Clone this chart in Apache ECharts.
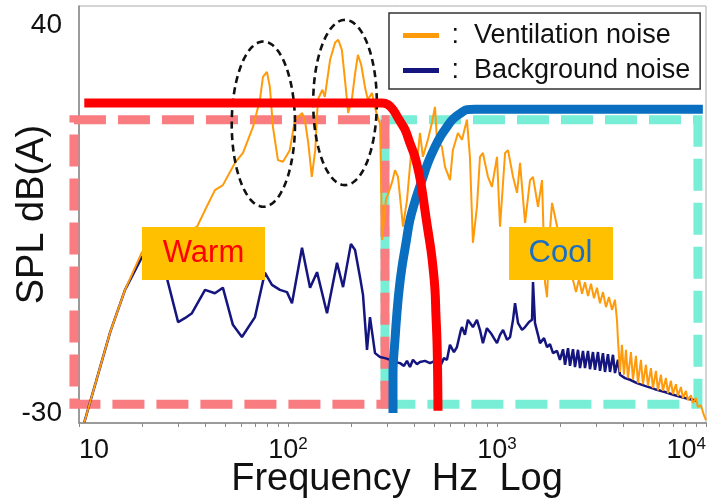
<!DOCTYPE html>
<html>
<head>
<meta charset="utf-8">
<script src="https://cdn.jsdelivr.net/npm/echarts@6/dist/echarts.min.js"></script>
<style>
  html, body { margin: 0; padding: 0; background: #fff; }
  #chart { width: 713px; height: 499px; }
</style>
</head>
<body>
<div id="chart"></div>
<script>
// spectra, [Hz, dB(A)]
const ventilationNoise = [
  [10.6, -31.7], [14.1, -15.4], [16.6, -7.8], [20.0, -1.0], [27.2, 1.2], [36.7, 3.6], [40.1, 6.6],
  [44.7, 10.2], [48.8, 11.1], [55.7, 15.1], [60.9, 16.9], [68.0, 21.6], [73.4, 26.5], [75.9, 30.6],
  [79.3, 31.5], [81.9, 28.8], [84.7, 21.6], [89.5, 15.6], [94.6, 15.3], [102, 17.4], [108, 22.9],
  [112, 23.4], [117, 24.1], [121, 22.3], [125, 18.7], [130, 12.6], [135, 17.4], [139, 26.5],
  [146, 28.3], [150, 27.0], [159, 33.7], [168, 36.8], [174, 37.3], [181, 35.5], [188, 29.5],
  [194, 24.1], [202, 26.5], [209, 31.0], [216, 34.6], [224, 32.8], [234, 28.6], [241, 26.5],
  [252, 27.7], [264, 24.3], [276, 22.0], [282, 1.2], [294, 8.4], [314, 11.5], [325, 13.8],
  [336, 12.6], [355, 3.6], [371, 8.4], [392, 18.7], [414, 15.1], [428, 20.5], [442, 16.2],
  [467, 19.3], [488, 22.3], [505, 25.2], [516, 19.3], [545, 18.0], [564, 14.4], [596, 12.0],
  [615, 17.4], [650, 20.5], [680, 19.3], [718, 22.9], [742, 16.2], [767, 0.7], [802, 7.2],
  [829, 16.2], [856, 16.9], [905, 12.6], [946, 10.8], [1000, 16.2], [1034, 3.6], [1093, 16.9],
  [1129, 17.4], [1193, 12.6], [1247, 9.7], [1289, 15.1], [1362, 4.3], [1439, 12.0], [1487, 12.6],
  [1571, 7.2], [1642, 12.0], [1697, -6.5], [1735, -9.1], [1793, 3.0], [1834, 7.9], [1895, 5.4],
  [2000, 1.2], [2139, -2.8], [2310, -6.0], [2388, -8.2], [2468, -5.8], [2551, -8.5], [2636, -6.4],
  [2725, -8.9], [2817, -6.7], [2911, -9.3], [3009, -7.4], [3110, -10.2], [3214, -8.2], [3322, -10.9],
  [3434, -9.1], [3549, -11.4], [3668, -9.6], [3750, -13.2], [3791, -16.8], [3876, -22.6], [3962, -17.7],
  [4050, -23.1], [4141, -18.6], [4233, -23.7], [4375, -19.0], [4472, -24.0], [4623, -19.7], [4725, -24.6],
  [4884, -20.4], [4992, -24.8], [5161, -21.3], [5275, -25.1], [5453, -21.9], [5574, -25.5], [5762, -22.4],
  [5889, -25.9], [6087, -23.1], [6222, -26.0], [6432, -23.7], [6575, -26.4], [6796, -24.2], [6947, -26.6],
  [7180, -24.8], [7339, -26.9], [7587, -25.3], [7754, -27.3], [8016, -26.0], [8193, -27.7], [8470, -26.8],
  [8657, -28.2], [8949, -27.3], [9147, -28.9], [9455, -28.6], [9772, -30.4], [10000, -31.3]
];

const backgroundNoise = [
  [10.6, -31.7], [14.1, -15.4], [16.6, -7.8], [20.0, -1.9], [22.4, 0.3], [24.4, -2.4], [26.4, -5.8],
  [29.8, -13.6], [32.1, -12.9], [34.7, -12.0], [40.1, -7.8], [44.7, -8.4], [48.8, -7.4], [54.5, -14.1],
  [60.2, -16.3], [69.5, -12.7], [77.5, -4.7], [83.8, -6.9], [91.5, -7.8], [98.9, -8.2], [104.5, -10.2],
  [116.7, -0.2], [127.5, -7.4], [137.7, -4.6], [153.7, -12.0], [171.6, -2.9], [183.4, -7.3], [200, 0.5],
  [209.3, -0.6], [221.1, -5.5], [228.5, -8.7], [238.8, -18.6], [246.8, -12.7], [260.8, -19.2],
  [275.5, -19.9], [291.1, -20.1], [307.6, -20.4], [325, -20.8], [343.4, -21.0], [358.8, -21.5],
  [370.9, -20.6], [383.4, -21.7], [396.2, -20.4], [414.1, -21.2], [428, -20.8], [452.2, -20.6],
  [477.8, -21.0], [504.8, -20.6], [539.3, -21.3], [557.4, -20.1], [576.2, -20.4], [595.5, -17.7],
  [622.2, -19.0], [643.2, -18.1], [672.2, -15.0], [679.6, -14.5], [702.4, -15.9], [725.9, -13.2],
  [767, -14.5], [801.6, -13.2], [828.5, -15.0], [856.3, -17.4], [894.9, -14.7], [935.1, -15.6],
  [966.4, -16.5], [1000, -17.4], [1034, -15.9], [1069, -15.0], [1117, -16.8], [1155, -16.3],
  [1193, -13.2], [1220, -10.2], [1261, -13.8], [1318, -15.0], [1362, -14.5], [1423, -13.6],
  [1471, -13.2], [1487, -6.4], [1520, -13.8], [1571, -15.9], [1606, -17.4], [1679, -16.5],
  [1735, -18.1], [1793, -17.6], [1854, -19.2], [1937, -18.8], [2000, -20.4], [2070, -18.5],
  [2116, -21.3], [2187, -18.3], [2235, -21.5], [2310, -18.5], [2361, -21.7], [2441, -18.6],
  [2495, -21.9], [2579, -18.8], [2636, -21.9], [2725, -18.8], [2786, -22.1], [2879, -19.0],
  [2943, -22.2], [3042, -19.0], [3110, -22.4], [3214, -19.2], [3286, -22.6], [3396, -19.4],
  [3472, -22.6], [3588, -19.5], [3668, -22.8], [3791, -20.4], [3876, -23.1], [4096, -23.7],
  [4328, -24.0], [4674, -24.6], [5104, -25.1], [5698, -25.7], [6361, -26.2], [7101, -26.8],
  [7927, -27.3], [9047, -27.8]
];

// crossover curves (warm side = red, cool side = blue)
const warmCurve = [
  [10.6, 25.9], [282, 25.9], [301, 25.6], [318, 24.7], [340, 22.9], [363, 21.1], [383, 18.7],
  [405, 16.2], [423, 13.3], [438, 10.2], [452, 6.6], [467, 3.0], [483, -0.6], [494, -3.7],
  [505, -7.8], [510, -12.0], [516, -16.8], [519, -21.0], [521, -25.9], [522, -29.6]
];
const coolCurve = [
  [318, -30.0], [318, -22.8], [325, -16.8], [332, -12.0], [340, -7.8], [351, -3.7], [367, 0.7],
  [383, 4.8], [410, 8.8], [438, 12.0], [467, 15.1], [505, 18.0], [539, 20.0], [576, 21.6],
  [615, 23.0], [672, 24.1], [718, 24.7], [784, 24.8], [9660, 24.8]
];

// dashed zones and circled peaks: [f low, f high, dB low, dB high]
const zones = [[291, 9150, -28.4, 22.9], [9.46, 291, -28.4, 22.9]];
const peakRings = [[53.8, 108, 7.2, 37.0], [132, 266, 11.1, 40.9]];

const yTickValues = [-30, 40];
const xTickValues = [10, 20, 30, 40, 50, 60, 70, 80, 90, 100, 200, 300, 400, 500, 600, 700, 800, 900,
  1000, 2000, 3000, 4000, 5000, 6000, 7000, 8000, 9000, 10000];

const FONT = '"Liberation Sans", Arial, sans-serif';
const zoneColors = ['#78eed6', '#f87c80'];

const chart = echarts.init(document.getElementById('chart'));

const option = {
  animation: false,
  textStyle: { fontFamily: FONT, color: '#111' },
  grid: {
    left: 79, right: 7, top: 6, bottom: 76,
    show: true, borderColor: '#aaa', borderWidth: 1,
    outerBoundsMode: 'none'
  },
  legend: {
    data: ['Ventilation noise', 'Background noise'],
    orient: 'vertical',
    left: 389, top: 13,
    padding: [9, 10, 5, 14],
    itemGap: 8,
    itemWidth: 36, itemHeight: 5,
    icon: 'rect',
    borderColor: '#333', borderWidth: 1.5,
    formatter: ' :  {name}',
    textStyle: { fontSize: 27, color: '#111', fontFamily: FONT }
  },
  xAxis: {
    type: 'log', logBase: 10, min: 10, max: 10000,
    name: 'Frequency  Hz  Log',
    nameLocation: 'middle', nameGap: 38, nameMoveOverlap: false,
    nameTextStyle: { fontSize: 38, color: '#111', padding: [0, 0, 0, 9] },
    axisLine: { onZero: false, lineStyle: { color: '#888', width: 1.5 } },
    axisTick: { show: true, length: 4, lineStyle: { color: '#888' }, customValues: xTickValues },
    splitLine: { show: false },
    axisLabel: {
      margin: 13,
      alignMinLabel: 'left', alignMaxLabel: 'right',
      formatter: v => {
        const p = Math.round(Math.log10(v));
        return p === 1 ? '{b|10}' : '{b|10}{s|' + p + '}';
      },
      rich: {
        b: { fontSize: 27, lineHeight: 30, color: '#111', fontFamily: FONT },
        s: { fontSize: 17, lineHeight: 22, verticalAlign: 'top', color: '#111', fontFamily: FONT }
      }
    }
  },
  yAxis: {
    type: 'value', min: -31.8, max: 43.4,
    name: 'SPL dB(A)',
    nameLocation: 'middle', nameGap: 27, nameMoveOverlap: false,
    nameTextStyle: { fontSize: 38, color: '#111' },
    axisLine: { show: true, onZero: false, lineStyle: { color: '#888', width: 1.5 } },
    axisTick: { show: false },
    splitLine: { show: false },
    axisLabel: { customValues: yTickValues, fontSize: 28, color: '#111', margin: 17 }
  },
  series: [
    {
      type: 'custom', silent: true, z: 1,
      data: zones,
      encode: { x: [0, 1], y: [2, 3] },
      renderItem: (params, api) => {
        const a = api.coord([api.value(0), api.value(3)]);
        const b = api.coord([api.value(1), api.value(2)]);
        return {
          type: 'rect',
          shape: { x: a[0], y: a[1], width: b[0] - a[0], height: b[1] - a[1] },
          style: { fill: 'none', stroke: zoneColors[params.dataIndex], lineWidth: 9, lineDash: [32, 12] }
        };
      }
    },
    {
      name: 'Background noise', type: 'line', data: backgroundNoise,
      showSymbol: false, color: '#14157f', z: 2,
      lineStyle: { width: 2.5, color: '#14157f' }
    },
    {
      name: 'Ventilation noise', type: 'line', data: ventilationNoise,
      showSymbol: false, color: '#ff9a0a', z: 3,
      lineStyle: { width: 2, color: '#ff9a0a' }
    },
    {
      type: 'custom', silent: true, z: 4,
      data: peakRings,
      encode: { x: [0, 1], y: [2, 3] },
      renderItem: (params, api) => {
        const a = api.coord([api.value(0), api.value(3)]);
        const b = api.coord([api.value(1), api.value(2)]);
        const cx = (a[0] + b[0]) / 2, cy = (a[1] + b[1]) / 2;
        const rx = (b[0] - a[0]) / 2, ry = (b[1] - a[1]) / 2;
        const pts = [];
        for (let i = 0; i < 120; i++) {
          const t = i / 120 * Math.PI * 2;
          pts.push([cx + rx * Math.cos(t), cy + ry * Math.sin(t)]);
        }
        return {
          type: 'polygon', shape: { points: pts },
          style: { fill: 'none', stroke: '#111', lineWidth: 2.6, lineDash: [7, 4.5] }
        };
      }
    },
    {
      type: 'line', data: coolCurve, showSymbol: false, smooth: 0.4, z: 5, silent: true,
      lineStyle: { width: 9, color: '#0a6fc0' }
    },
    {
      type: 'line', data: warmCurve, showSymbol: false, smooth: 0.4, z: 6, silent: true,
      lineStyle: { width: 9, color: '#ff0000' }
    }
  ],
  graphic: [
    { type: 'rect', z: 20, shape: { x: 142, y: 227, width: 123, height: 53 }, style: { fill: '#ffc000' } },
    { type: 'text', z: 21, x: 203.5, y: 253,
      style: { text: 'Warm', fill: '#ff0000', font: '31px ' + FONT, align: 'center', verticalAlign: 'middle' } },
    { type: 'rect', z: 20, shape: { x: 509, y: 227, width: 104, height: 53 }, style: { fill: '#ffc000' } },
    { type: 'text', z: 21, x: 560.5, y: 253,
      style: { text: 'Cool', fill: '#1a6fc4', font: '31px ' + FONT, align: 'center', verticalAlign: 'middle' } }
  ]
};

chart.setOption(option);
</script>
</body>
</html>
